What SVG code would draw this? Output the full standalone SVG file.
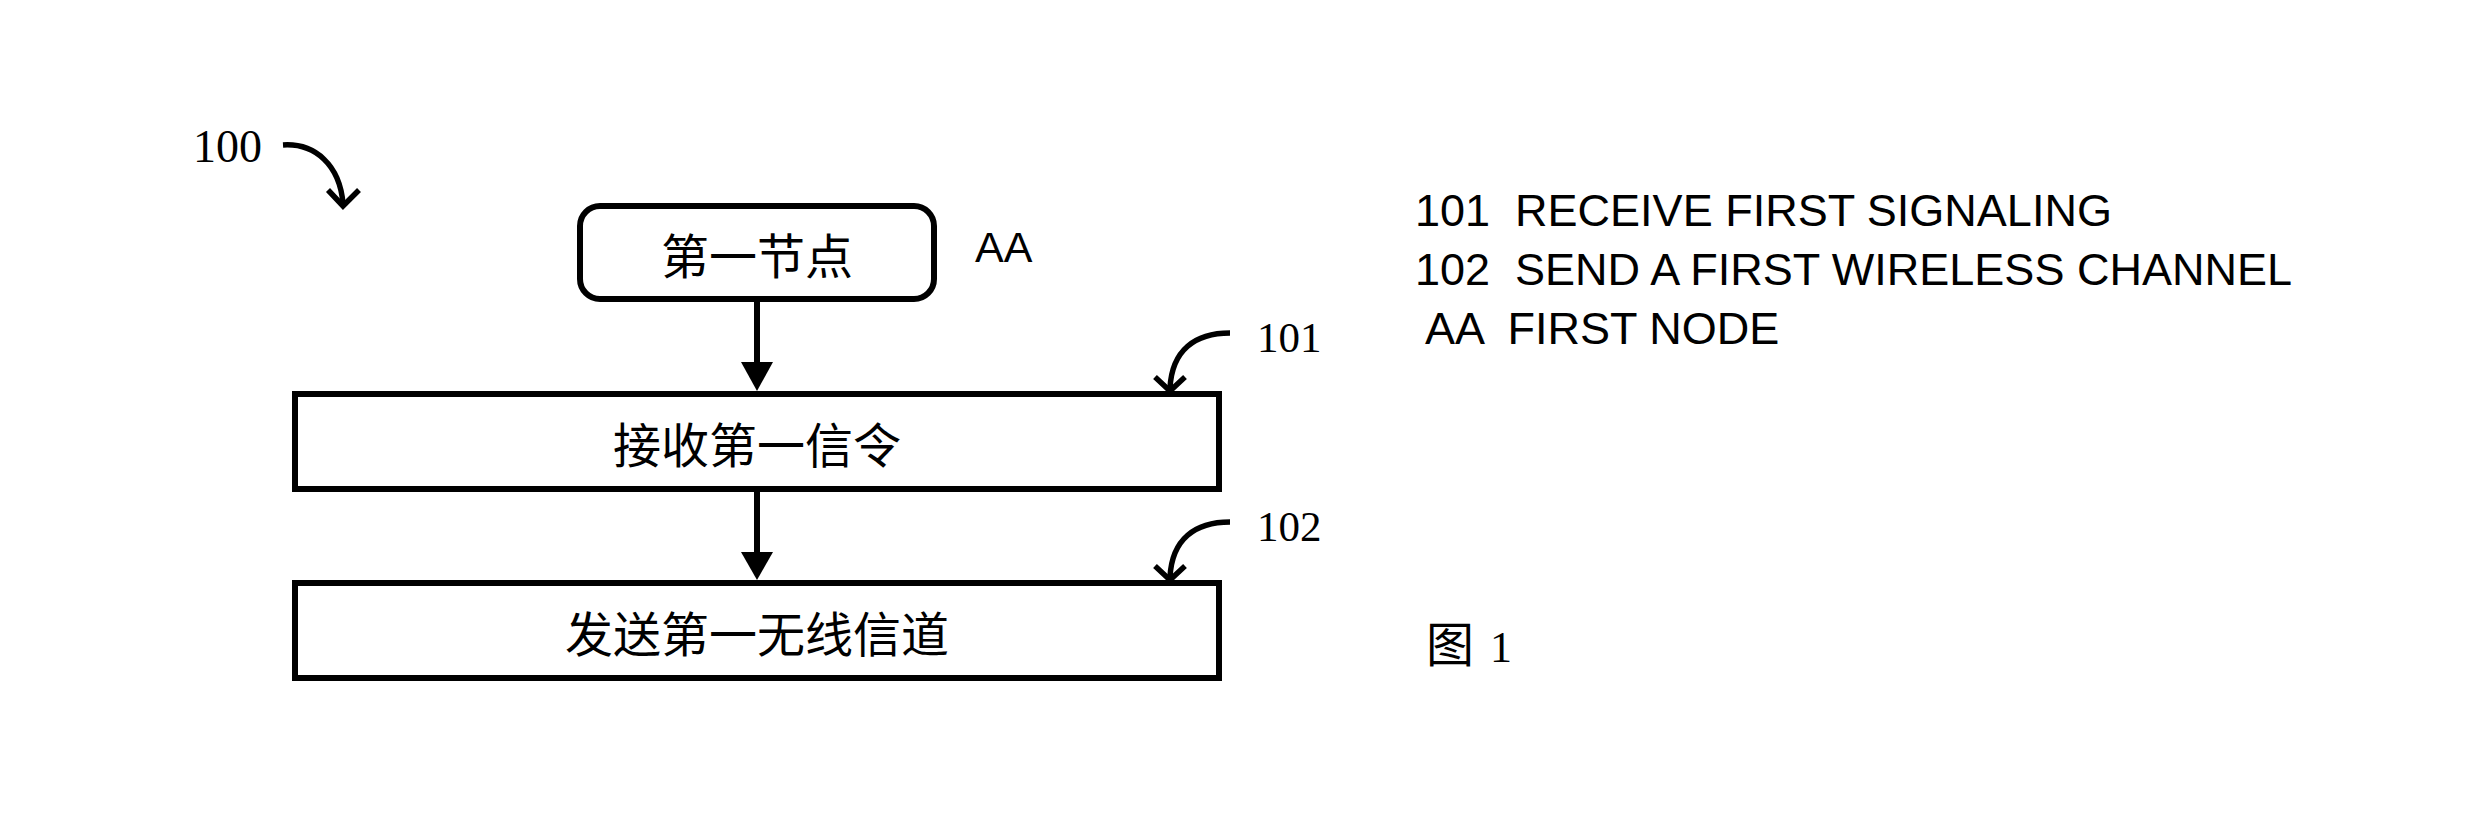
<svg xmlns="http://www.w3.org/2000/svg" width="2474" height="824" viewBox="0 0 2474 824">
<style>
.box{fill:#fff;stroke:#000;stroke-width:6}
.conn{fill:none;stroke:#000;stroke-width:6}
.curve{fill:none;stroke:#000;stroke-width:5.5}
.cjk{font-family:"Noto Sans CJK SC","Noto Sans CJK TC",sans-serif;font-size:48px;fill:#000}
.num{font-family:"Liberation Serif","Times New Roman",serif;fill:#000}
.sans{font-family:"Liberation Sans",Arial,sans-serif;fill:#000}
</style>
<defs>
<marker id="ah" viewBox="0 0 32 28" refX="16" refY="28" markerWidth="32" markerHeight="28" markerUnits="userSpaceOnUse" orient="auto-start-reverse">
<path d="M0,0 L32,0 L16,28 Z" fill="#000"/>
</marker>
</defs>
<rect width="2474" height="824" fill="#fff"/>

<g id="label-100">
<text class="num" x="193" y="162" font-size="46">100</text>
<path class="curve" d="M283,145 C315,143 340,165 343,204"/>
<polyline class="curve" points="328,190 343,206 359,190"/>
</g>

<g id="node-AA">
<rect class="box" x="580" y="206" width="354" height="93" rx="20" ry="20"/>
<text class="cjk" x="757" y="253" text-anchor="middle" dominant-baseline="central">第一节点</text>
<text class="sans" x="975" y="262" font-size="43">AA</text>
</g>

<g id="node-101">
<rect class="box" x="295" y="394" width="924" height="95"/>
<text class="cjk" x="757" y="442" text-anchor="middle" dominant-baseline="central">接收第一信令</text>
<text class="num" x="1257" y="352" font-size="43">101</text>
<path class="curve" d="M1230,333 C1195,333 1172,350 1170,388"/>
<polyline class="curve" points="1155,377 1170,391 1185,377"/>
</g>

<g id="node-102">
<rect class="box" x="295" y="583" width="924" height="95"/>
<text class="cjk" x="757" y="631" text-anchor="middle" dominant-baseline="central">发送第一无线信道</text>
<text class="num" x="1257" y="541" font-size="43">102</text>
<path class="curve" d="M1230,522 C1195,522 1172,539 1170,577"/>
<polyline class="curve" points="1155,566 1170,580 1185,566"/>
</g>

<g id="connectors">
<line class="conn" x1="757" y1="302" x2="757" y2="364"/>
<path d="M741,362 L773,362 L757,391 Z" fill="#000"/>
<line class="conn" x1="757" y1="492" x2="757" y2="554"/>
<path d="M741,552 L773,552 L757,580 Z" fill="#000"/>
</g>

<g id="legend">
<text class="sans" x="1415" y="226" font-size="45" xml:space="preserve">101  RECEIVE FIRST SIGNALING</text>
<text class="sans" x="1415" y="285" font-size="45" xml:space="preserve">102  SEND A FIRST WIRELESS CHANNEL</text>
<text class="sans" x="1415" y="344" font-size="45" xml:space="preserve"> AA  FIRST NODE</text>
</g>

<g id="figure-label">
<text class="cjk" x="1426" y="662" font-size="40">图</text>
<text class="num" x="1490" y="662" font-size="44">1</text>
</g>
</svg>
